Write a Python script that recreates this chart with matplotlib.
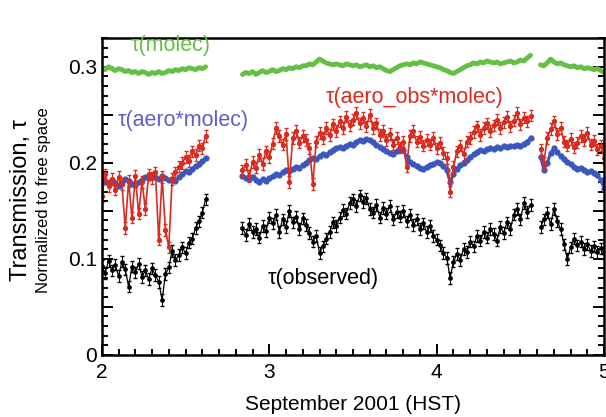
import matplotlib
matplotlib.use("Agg")
import matplotlib.pyplot as plt
import numpy as np
from matplotlib.ticker import MultipleLocator, FuncFormatter

plt.rcParams['font.family'] = ['Liberation Sans', 'DejaVu Sans']

# time axis: three stretches of data with gaps between them (days of Sept 2001)
seg_x = [np.linspace(2.00, 2.62, 32),
         np.linspace(2.84, 4.56, 87),
         np.linspace(4.62, 5.00, 20)]

# tau(molec)
molec = [
    [0.299, 0.297, 0.300, 0.298, 0.296, 0.298, 0.297, 0.295, 0.296, 0.294,
     0.295, 0.293, 0.295, 0.294, 0.292, 0.294, 0.293, 0.295, 0.293, 0.294,
     0.296, 0.295, 0.297, 0.296, 0.298, 0.297, 0.299, 0.298, 0.297, 0.299,
     0.298, 0.300],
    [0.292, 0.294, 0.293, 0.295, 0.292, 0.294, 0.296, 0.294, 0.295,
     0.297, 0.295, 0.296, 0.298, 0.297, 0.299, 0.298, 0.300, 0.299, 0.301,
     0.301, 0.303, 0.302, 0.305, 0.308, 0.306, 0.304, 0.303, 0.302, 0.303,
     0.302, 0.301, 0.303, 0.302, 0.301, 0.302, 0.300, 0.301, 0.302, 0.300,
     0.301, 0.299, 0.300, 0.298, 0.296, 0.295, 0.297, 0.299, 0.301, 0.302,
     0.303, 0.302, 0.304, 0.303, 0.305, 0.304, 0.303, 0.302, 0.301, 0.300,
     0.299, 0.297, 0.296, 0.294, 0.293, 0.295, 0.297, 0.299, 0.301, 0.302,
     0.304, 0.303, 0.305, 0.304, 0.306, 0.305, 0.304, 0.305, 0.303, 0.304,
     0.305, 0.306, 0.304, 0.305, 0.307, 0.306, 0.309, 0.312],
    [0.302, 0.301, 0.304, 0.308, 0.305, 0.303, 0.304, 0.302, 0.301, 0.300,
     0.301, 0.299, 0.300, 0.298, 0.299, 0.298, 0.297, 0.298, 0.296, 0.294],
]

# tau(aero*molec)
aero_molec = [
    [0.184, 0.180, 0.178, 0.182, 0.179, 0.176, 0.180, 0.183, 0.181, 0.178,
     0.177, 0.180, 0.182, 0.185, 0.184, 0.187, 0.185, 0.183, 0.186, 0.184,
     0.182, 0.183, 0.181, 0.185, 0.188, 0.191, 0.190, 0.194, 0.197, 0.199,
     0.202, 0.205],
    [0.186, 0.184, 0.183, 0.185, 0.182, 0.180, 0.183, 0.181, 0.184,
     0.186, 0.188, 0.187, 0.190, 0.192, 0.191, 0.194, 0.196, 0.195, 0.198,
     0.200, 0.203, 0.205, 0.204, 0.207, 0.209, 0.208, 0.211, 0.213, 0.215,
     0.216, 0.215, 0.218, 0.220, 0.219, 0.222, 0.224, 0.223, 0.225, 0.224,
     0.222, 0.219, 0.216, 0.214, 0.212, 0.210, 0.209, 0.212, 0.215, 0.213,
     0.206, 0.201, 0.199, 0.197, 0.195, 0.194, 0.196, 0.198, 0.199, 0.201,
     0.200, 0.197, 0.192, 0.180, 0.188, 0.194, 0.198, 0.200, 0.203, 0.206,
     0.209, 0.211, 0.213, 0.212, 0.214, 0.215, 0.214, 0.216, 0.215, 0.217,
     0.216, 0.218, 0.217, 0.219, 0.218, 0.220, 0.222, 0.226],
    [0.206, 0.193, 0.200, 0.210, 0.215, 0.211, 0.207, 0.204, 0.201, 0.199,
     0.196, 0.194, 0.195, 0.192, 0.190, 0.191, 0.189, 0.187, 0.182, 0.173],
]

# tau(aero_obs*molec)
aero_obs = [
    [0.165, 0.188, 0.176, 0.183, 0.172, 0.185, 0.178, 0.132, 0.181, 0.143,
     0.186, 0.147, 0.180, 0.152, 0.188, 0.184, 0.190, 0.120, 0.185, 0.130,
     0.112, 0.183, 0.190, 0.196, 0.200, 0.206, 0.202, 0.212, 0.208, 0.218,
     0.215, 0.228],
    [0.192, 0.198, 0.186, 0.201, 0.195, 0.208, 0.199, 0.212, 0.206,
     0.220, 0.236, 0.228, 0.219, 0.230, 0.180, 0.226, 0.233, 0.221, 0.228,
     0.224, 0.215, 0.178, 0.222, 0.231, 0.226, 0.236, 0.229, 0.240, 0.233,
     0.243, 0.236, 0.248, 0.239, 0.245, 0.252, 0.241, 0.247, 0.238, 0.250,
     0.236, 0.241, 0.229, 0.233, 0.224, 0.230, 0.219, 0.226, 0.216, 0.222,
     0.196, 0.228, 0.233, 0.222, 0.227, 0.218, 0.224, 0.219, 0.226, 0.215,
     0.221, 0.210, 0.205, 0.170, 0.196, 0.212, 0.218, 0.209, 0.222, 0.226,
     0.232, 0.238, 0.229, 0.236, 0.241, 0.233, 0.239, 0.245, 0.236, 0.242,
     0.248, 0.238, 0.244, 0.252, 0.240, 0.247, 0.243, 0.249],
    [0.214, 0.200, 0.226, 0.235, 0.243, 0.230, 0.236, 0.222, 0.218, 0.225,
     0.216, 0.221, 0.228, 0.224, 0.231, 0.219, 0.223, 0.214, 0.218, 0.205],
]

# tau(observed)
observed = [
    [0.093, 0.085, 0.098, 0.088, 0.094, 0.082, 0.097, 0.089, 0.071, 0.092,
     0.086, 0.095, 0.081, 0.088, 0.079, 0.090, 0.083, 0.076, 0.057, 0.084,
     0.091, 0.108, 0.099, 0.104, 0.112, 0.106, 0.117, 0.121, 0.132, 0.139,
     0.148, 0.162],
    [0.132, 0.125, 0.136, 0.128, 0.131, 0.122, 0.134, 0.129, 0.143,
     0.137, 0.146, 0.128, 0.141, 0.133, 0.150, 0.138, 0.144, 0.131, 0.142,
     0.135, 0.127, 0.118, 0.124, 0.106, 0.113, 0.121, 0.128, 0.138, 0.134,
     0.143, 0.151, 0.147, 0.158, 0.162, 0.155, 0.166, 0.159, 0.163, 0.152,
     0.148, 0.156, 0.143, 0.153, 0.147, 0.155, 0.141, 0.149, 0.144, 0.150,
     0.139, 0.146, 0.135, 0.141, 0.131, 0.137, 0.128, 0.134, 0.124, 0.120,
     0.114, 0.106, 0.101, 0.080, 0.097, 0.105, 0.099, 0.110, 0.107, 0.118,
     0.113, 0.124, 0.119, 0.128, 0.122, 0.131, 0.126, 0.119, 0.133, 0.127,
     0.138, 0.131, 0.146, 0.152, 0.141, 0.158, 0.149, 0.156],
    [0.133, 0.141, 0.148, 0.136, 0.152, 0.139, 0.131, 0.115, 0.100, 0.112,
     0.121, 0.114, 0.118, 0.110, 0.115, 0.108, 0.113, 0.107, 0.111, 0.106],
]

# approximate size of the error whiskers on the measured curves
obs_err = 0.006

GREEN = '#66bf45'
BLUE = '#3a57c0'
RED = '#d92b1f'

fig = plt.figure(figsize=(6.06, 4.17), dpi=100)
ax = fig.add_axes([0.168, 0.149, 0.829, 0.760])

for i in range(len(seg_x)):
    x = seg_x[i]
    ax.plot(x, molec[i], color=GREEN, lw=3.5, solid_capstyle='round')
    ax.plot(x, aero_molec[i], color=BLUE, lw=2.2, marker='o', ms=3.5, mec=BLUE)
    ax.errorbar(x, aero_obs[i], yerr=obs_err, color=RED, lw=1.2, marker='o',
                ms=2.8, mec=RED, elinewidth=0.8, capsize=1.5)
    ax.errorbar(x, observed[i], yerr=obs_err, color='black', lw=0.9,
                marker='o', ms=2.4, elinewidth=0.7, capsize=1.5)

ax.set_xlim(2, 5)
ax.set_ylim(0, 0.33)

ax.xaxis.set_major_locator(MultipleLocator(1))
ax.xaxis.set_minor_locator(MultipleLocator(0.1))
ax.yaxis.set_major_locator(MultipleLocator(0.05))
ax.yaxis.set_minor_locator(MultipleLocator(0.01))


def ylab(v, pos):
    if abs(round(v * 10) - v * 10) > 1e-6:
        return ''
    if abs(v) < 1e-9:
        return '0'
    return '%.1f' % v


ax.yaxis.set_major_formatter(FuncFormatter(ylab))
ax.xaxis.set_major_formatter(FuncFormatter(lambda v, p: '%d' % round(v)))

ax.tick_params(which='both', direction='in', left=True, right=True,
               top=False, bottom=True, width=1.4, labelsize=15)
ax.tick_params(which='major', length=8)
ax.tick_params(which='minor', length=4)
ax.tick_params(axis='x', pad=6)
for s in ax.spines.values():
    s.set_linewidth(1.8)

ax.text(2.17, 0.322, 'τ(molec)', color=GREEN, fontsize=15.5, va='center')
ax.text(2.095, 0.244, 'τ(aero*molec)', color='#5b5fcc', fontsize=15.5, va='center')
ax.text(3.335, 0.268, 'τ(aero_obs*molec)', color=RED, fontsize=15.5, va='center')
ax.text(2.99, 0.080, 'τ(observed)', color='black', fontsize=15.5, va='center')

ax.set_xlabel('September 2001 (HST)', fontsize=15, labelpad=9)
fig.text(0.035, 0.52, 'Transmission, τ', rotation=90, fontsize=17,
         ha='center', va='center')
fig.text(0.072, 0.52, 'Normalized to free space', rotation=90, fontsize=12,
         ha='center', va='center')

fig.savefig('out.png', dpi=100)
